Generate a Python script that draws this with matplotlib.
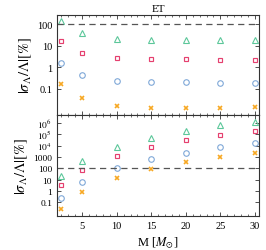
import numpy as np
import matplotlib.pyplot as plt
from matplotlib.ticker import LogLocator, FixedLocator, NullFormatter, MultipleLocator

masses = [2, 5, 10, 15, 20, 25, 30]

# top panel
top_tri = [137, 38, 20, 19, 18.3, 18, 18]
top_sq = [16.5, 4.6, 2.6, 2.3, 2.3, 2.1, 2.1]
top_circ = [1.55, 0.42, 0.245, 0.2, 0.2, 0.18, 0.18]
top_cross = [0.165, 0.038, 0.016, 0.013, 0.013, 0.013, 0.015]

# bottom panel
bot_tri = [19.5, 440, 8000, 48000, 1.9e5, 5.9e5, 1.3e6]
bot_sq = [3.2, 70, 1300, 7200, 3.0e4, 8.3e4, 1.9e5]
bot_circ = [0.23, 6.5, 100, 630, 2400, 7300, 1.6e4]
bot_cross = [0.025, 0.75, 13, 82, 340, 940, 2100]

top_ticks = [0.1, 1, 10, 100]
top_labels = ["0.1", "1", "10", "100"]
bot_ticks = [0.1, 1, 10, 100, 1000, 1e4, 1e5, 1e6]
bot_labels = ["0.1", "1", "10", "100", "1000", r"$10^4$", r"$10^5$", r"$10^6$"]

plt.rcParams.update({
    "font.family": "Liberation Serif",
    "mathtext.fontset": "stix",
    "font.size": 7.5,
    "axes.linewidth": 0.8,
    "axes.edgecolor": "#333333",
})

c_tri = "#5cc79a"
c_sq = "#e5406f"
c_circ = "#7fa8d8"
c_cross = "#f7a823"
frame_c = "#333333"

fig = plt.figure(figsize=(2.66, 2.51), dpi=100)
ax1 = fig.add_axes([0.214, 0.538, 0.76, 0.3995])
ax2 = fig.add_axes([0.214, 0.135, 0.76, 0.403], sharex=ax1)


def draw(ax, tri, sq, circ, cross):
    ax.plot(masses, tri, ls="none", marker="^", ms=3.8, mfc="none", mec=c_tri, mew=0.8)
    ax.plot(masses, sq, ls="none", marker="s", ms=3.5, mfc="none", mec=c_sq, mew=0.85)
    ax.plot(masses, circ, ls="none", marker="o", ms=4.0, mfc="none", mec=c_circ, mew=0.8)
    ax.plot(masses, cross, ls="none", marker="x", ms=2.6, mec=c_cross, mew=1.2)
    ax.axhline(100, color="#555555", lw=0.9, ls=(0, (5, 3.5)))
    ax.set_yscale("log")
    ax.tick_params(which="both", direction="in", top=True, right=True,
                   colors=frame_c, labelcolor="black")
    ax.tick_params(which="major", length=3, width=0.6)
    ax.tick_params(which="minor", length=1.5, width=0.5)
    ax.set_ylabel(r"$|\sigma_\Lambda/\Lambda|[\%]$", fontsize=10.5, labelpad=2)


draw(ax1, top_tri, top_sq, top_circ, top_cross)
draw(ax2, bot_tri, bot_sq, bot_circ, bot_cross)

ax1.set_ylim(0.0063, 270)
ax1.yaxis.set_major_locator(FixedLocator(top_ticks))
ax1.set_yticklabels(top_labels)
ax1.yaxis.set_minor_locator(LogLocator(base=10, subs=np.arange(2, 10)))
ax1.yaxis.set_minor_formatter(NullFormatter())

ax2.set_ylim(0.006, 5e6)
ax2.yaxis.set_major_locator(FixedLocator(bot_ticks))
ax2.set_yticklabels(bot_labels, fontsize=6.8)
ax2.yaxis.set_minor_formatter(NullFormatter())

ax2.set_xlim(1.35, 30.6)
ax2.xaxis.set_major_locator(FixedLocator([5, 10, 15, 20, 25, 30]))
ax2.xaxis.set_minor_locator(MultipleLocator(1))
plt.setp(ax1.get_xticklabels(), visible=False)

ax2.set_xlabel(r"M [$M_{\odot}$]", fontsize=9, labelpad=3)
ax1.set_title("ET", fontsize=8, pad=3)

fig.savefig("out.png", dpi=100)
